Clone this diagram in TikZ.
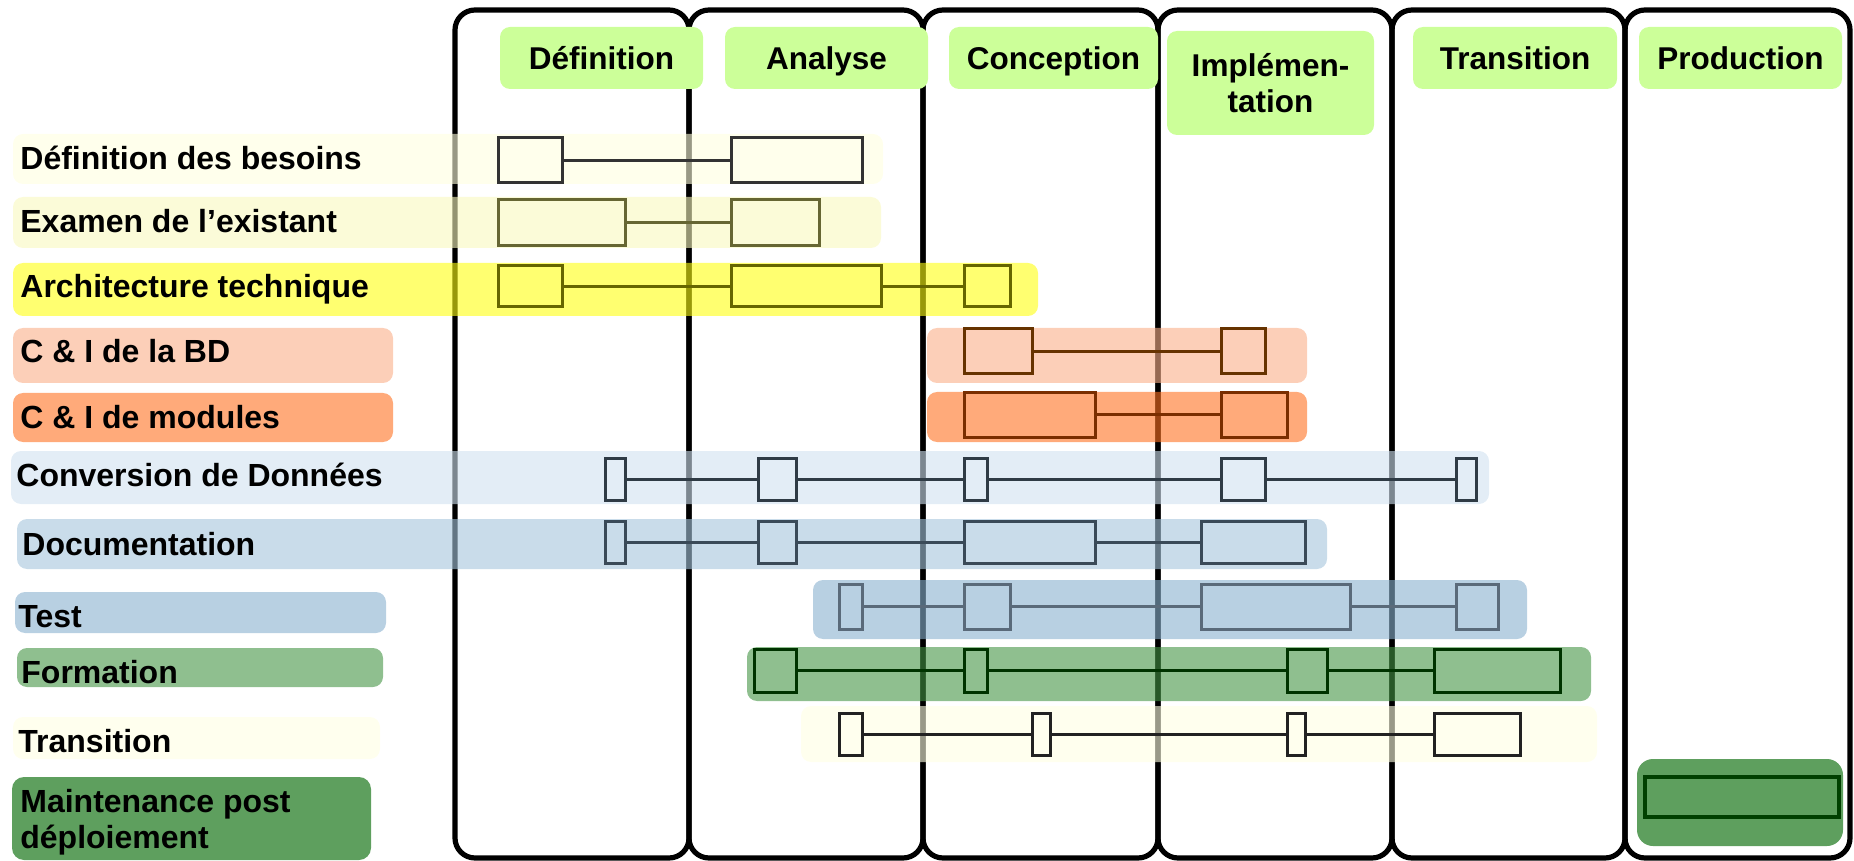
\documentclass[tikz,border=0pt]{standalone}
\usepackage{fontspec}
\setmainfont{Liberation Sans}

% phase headers
\definecolor{hdrgreen}{HTML}{CCFF99}
% activity bands (drawn at 60% opacity over the phase columns)
\definecolor{bandA}{HTML}{FFFFDF}
\definecolor{bandB}{HTML}{F8F8BE}
\definecolor{bandC}{HTML}{FFFF11}
\definecolor{bandD}{HTML}{FAAF89}
\definecolor{bandE}{HTML}{FF7121}
\definecolor{bandF}{HTML}{D0E1F0}
\definecolor{bandG}{HTML}{A5C5DC}
\definecolor{bandH}{HTML}{89B1CF}
\definecolor{bandI}{HTML}{449444}
\definecolor{bandJ}{HTML}{FFFFE3}
\definecolor{maint}{HTML}{5E9F5E}
% outlines of the activity bars
\definecolor{lnA}{HTML}{333333}
\definecolor{lnB}{HTML}{666633}
\definecolor{lnC}{HTML}{666600}
\definecolor{lnD}{HTML}{663300}
\definecolor{lnE}{HTML}{7A2E00}
\definecolor{lnF}{HTML}{2F3B45}
\definecolor{lnG}{HTML}{3A4A58}
\definecolor{lnH}{HTML}{5A6A7A}
\definecolor{lnI}{HTML}{003300}
\definecolor{lnJ}{HTML}{222222}
\definecolor{lnK}{HTML}{004000}

\newcommand\hdrfont{\bfseries\fontsize{15.75pt}{18pt}\selectfont}
\newcommand\lblfont{\bfseries\fontsize{16pt}{18pt}\selectfont}

\tikzset{
  phase/.style={draw=black, line width=2.6pt, rounded corners=10pt},
  band/.style={fill opacity=0.6, rounded corners=5pt},
  hdr/.style={fill=hdrgreen, rounded corners=5pt, inner sep=0pt, align=center, font=\hdrfont},
  hdrone/.style={hdr, text height=11.3pt, text depth=0pt},
  barbox/.style={line width=1.5pt, inner sep=0pt, outer sep=0pt},
  conn/.style={line width=1.5pt},
  lbl/.style={inner sep=0pt, anchor=base west, font=\lblfont},
}

% activity bar: name, colour, x1, x2, y1, y2 (pixel grid)
\newcommand\barnode[6]{%
  \node[barbox, draw=#2, minimum width={(#4-#3)*0.5pt}, minimum height={(#6-#5)*0.5pt}]
    (#1) at ({(#3+#4)/2},{(#5+#6)/2}) {};}
% background band: colour, x1, y1, x2, y2
\newcommand\band[5]{\fill[band, fill=#1] (#2,#3) rectangle (#4,#5);}

\begin{document}
\begin{tikzpicture}[x=0.5pt, y=-0.5pt]
\useasboundingbox (0,0) rectangle (1854,861);

% phase columns
\foreach \xa/\xb in {455/689, 689/923, 923/1158, 1158/1392, 1392/1625, 1625/1850}
  \draw[phase] (\xa,10) rectangle (\xb,858);

% bands and label boxes
\band{bandA}{13}{134}{883}{184}
\band{bandB}{13}{197}{881}{248}
\band{bandC}{13}{263}{1038}{316}
\band{bandD}{13}{328}{393}{383}
\band{bandD}{927}{328}{1307}{383}
\band{bandE}{13}{393}{393}{442}
\band{bandE}{927}{392}{1307}{442}
\band{bandF}{11}{451}{1489}{504}
\band{bandG}{17}{519}{1327}{569}
\band{bandH}{15}{592}{386}{633}
\band{bandH}{813}{580}{1527}{639}
\band{bandI}{17}{648}{383}{687}
\band{bandI}{747}{647}{1591}{701}
\band{bandJ}{13}{717}{380}{759}
\band{bandJ}{801}{706}{1597}{762}
\fill[maint, rounded corners=6pt] (12,777) rectangle (371,860);
\fill[maint, rounded corners=8pt] (1637,759) rectangle (1843,846);

% phase headers
\node[hdrone, minimum width=101.5pt, minimum height=31pt] (h1) at (601.5,58) {Définition};
\node[hdrone, minimum width=101.5pt, minimum height=31pt] (h2) at (826.5,58) {Analyse};
\node[hdrone, minimum width=104.5pt, minimum height=31pt] (h3) at (1053.5,58) {Conception};
\node[hdr, minimum width=103.5pt, minimum height=52pt] (h4) at (1270.5,83) {Implémen-\\tation};
\node[hdrone, minimum width=102pt, minimum height=31pt] (h5) at (1515,58) {Transition};
\node[hdrone, minimum width=101.5pt, minimum height=31pt] (h6) at (1740.5,58) {Production};

% activity labels
\node[lbl] (t1) at (20,170) {Définition des besoins};
\node[lbl] (t2) at (20,233) {Examen de l’existant};
\node[lbl] (t3) at (20,298) {Architecture technique};
\node[lbl] (t4) at (20,363) {C \& I de la BD};
\node[lbl] (t5) at (20,429) {C \& I de modules};
\node[lbl] (t6) at (16,487) {Conversion de Données};
\node[lbl] (t7) at (22,555) {Documentation};
\node[lbl] (t8) at (18,627) {Test};
\node[lbl] (t9) at (21,683) {Formation};
\node[lbl] (t10) at (18,752) {Transition};
\node[lbl, anchor=west, align=left] (t11) at (20,822) {Maintenance post\\déploiement};

% Définition des besoins
\barnode{a1}{lnA}{498}{562}{138}{183}
\barnode{a2}{lnA}{731}{862}{138}{183}
\draw[conn, lnA] (a1.east) -- (a2.west);

% Examen de l'existant
\barnode{b1}{lnB}{498}{625}{200}{246}
\barnode{b2}{lnB}{731}{819}{200}{246}
\draw[conn, lnB] (b1.east) -- (b2.west);

% Architecture technique
\barnode{c1}{lnC}{498}{562}{266}{307}
\barnode{c2}{lnC}{731}{881}{266}{307}
\barnode{c3}{lnC}{964}{1010}{266}{307}
\draw[conn, lnC] (c1.east) -- (c2.west) (c2.east) -- (c3.west);

% C & I de la BD
\barnode{d1}{lnD}{964}{1032}{329}{374}
\barnode{d2}{lnD}{1221}{1265}{329}{374}
\draw[conn, lnD] (d1.east) -- (d2.west);

% C & I de modules
\barnode{e1}{lnE}{964}{1095}{393}{437}
\barnode{e2}{lnE}{1221}{1287}{393}{437}
\draw[conn, lnE] (e1.east) -- (e2.west);

% Conversion de Données
\barnode{f1}{lnF}{605}{625}{458}{500}
\barnode{f2}{lnF}{758}{796}{458}{500}
\barnode{f3}{lnF}{964}{987}{458}{500}
\barnode{f4}{lnF}{1221}{1265}{458}{500}
\barnode{f5}{lnF}{1456}{1476}{458}{500}
\draw[conn, lnF] (f1.east) -- (f2.west) (f2.east) -- (f3.west)
  (f3.east) -- (f4.west) (f4.east) -- (f5.west);

% Documentation
\barnode{g1}{lnG}{605}{625}{521}{563}
\barnode{g2}{lnG}{758}{796}{521}{563}
\barnode{g3}{lnG}{964}{1095}{521}{563}
\barnode{g4}{lnG}{1201}{1305}{521}{563}
\draw[conn, lnG] (g1.east) -- (g2.west) (g2.east) -- (g3.west) (g3.east) -- (g4.west);

% Test
\barnode{k1}{lnH}{839}{862}{584}{629}
\barnode{k2}{lnH}{964}{1010}{584}{629}
\barnode{k3}{lnH}{1201}{1350}{584}{629}
\barnode{k4}{lnH}{1456}{1498}{584}{629}
\draw[conn, lnH] (k1.east) -- (k2.west) (k2.east) -- (k3.west) (k3.east) -- (k4.west);

% Formation
\barnode{m1}{lnI}{754}{796}{649}{692}
\barnode{m2}{lnI}{964}{987}{649}{692}
\barnode{m3}{lnI}{1287}{1327}{649}{692}
\barnode{m4}{lnI}{1434}{1560}{649}{692}
\draw[conn, lnI] (m1.east) -- (m2.west) (m2.east) -- (m3.west) (m3.east) -- (m4.west);

% Transition
\barnode{n1}{lnJ}{839}{862}{713}{755}
\barnode{n2}{lnJ}{1032}{1050}{713}{755}
\barnode{n3}{lnJ}{1287}{1305}{713}{755}
\barnode{n4}{lnJ}{1434}{1520}{713}{755}
\draw[conn, lnJ] (n1.east) -- (n2.west) (n2.east) -- (n3.west) (n3.east) -- (n4.west);

% Maintenance post déploiement
\node[barbox, line width=2pt, draw=lnK, minimum width=97pt, minimum height=20pt] (p1) at (1742,797) {};

\end{tikzpicture}
\end{document}
